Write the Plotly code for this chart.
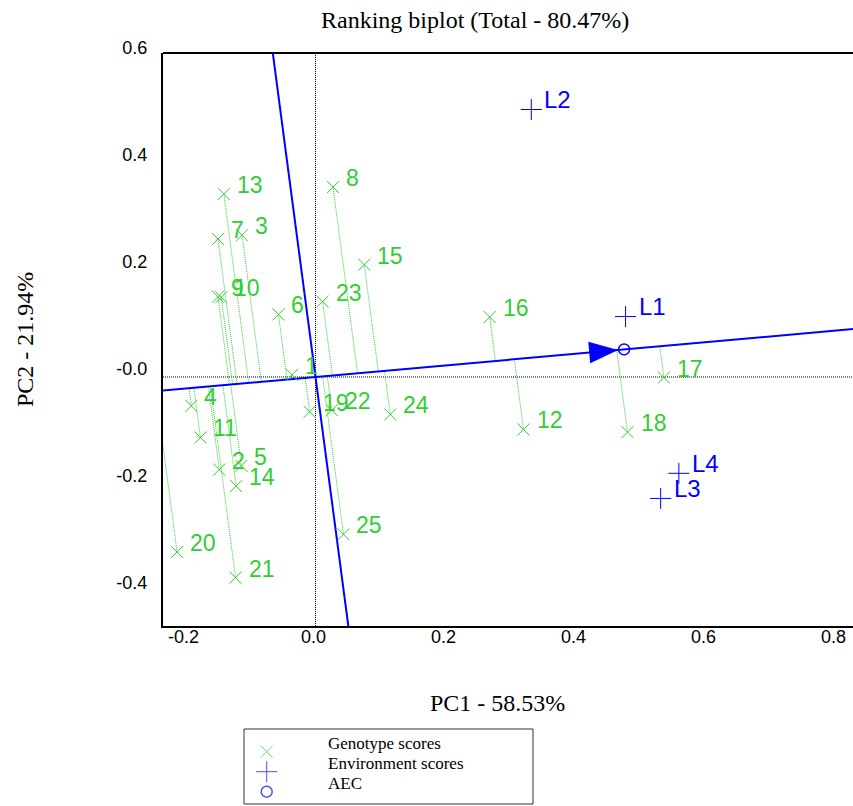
import numpy as np
import plotly.graph_objects as go

# ---------------- data ----------------
genotypes = [str(i) for i in range(1, 26)]
g_pc1 = [-0.036, -0.148, -0.113, -0.191, -0.114, -0.057, -0.150, 0.027, -0.150, -0.145,
         -0.177, 0.320, -0.141, -0.122, 0.075, 0.268, 0.536, 0.480, -0.009, -0.213,
         -0.123, 0.025, 0.011, 0.115, 0.043]
g_pc2 = [0.004, -0.173, 0.265, -0.054, -0.166, 0.117, 0.258, 0.355, 0.150, 0.149,
         -0.113, -0.098, 0.342, -0.204, 0.210, 0.112, -0.001, -0.103, -0.065, -0.327,
         -0.375, -0.062, 0.141, -0.070, -0.294]
environments = ["L1", "L2", "L3", "L4"]
e_pc1 = [0.477, 0.332, 0.531, 0.559]
e_pc2 = [0.113, 0.500, -0.227, -0.180]

x_tickvals = [-0.2, 0.0, 0.2, 0.4, 0.6, 0.8]
x_ticktext = ["-0.2", "0.0", "0.2", "0.4", "0.6", "0.8"]
y_tickvals = [-0.4, -0.2, 0.0, 0.2, 0.4, 0.6]
y_ticktext = ["-0.4", "-0.2", "-0.0", "0.2", "0.4", "0.6"]

title_text = "Ranking biplot (Total - 80.47%)"
x_title = "PC1 - 58.53%"
y_title = "PC2 - 21.94%"
legend_items = ["Genotype scores", "Environment scores", "AEC"]

# ---------------- layout constants ----------------
W, H = 853, 806
PL, PR, PT, PB = 163, 853, 53, 626
x_range = [-0.2346, 0.8269]
y_range = [-0.4654, 0.6056]
GREEN = "#32CD32"
BLUE = "#0000FF"
SERIF = "Liberation Serif"
SANS = "Liberation Sans"

gx = np.array(g_pc1)
gy = np.array(g_pc2)
aec = np.array([np.mean(e_pc1), np.mean(e_pc2)])
a_hat = aec / np.linalg.norm(aec)
perp = np.array([-a_hat[1], a_hat[0]])

fig = go.Figure()

# projection lines of genotypes onto AEC abscissa
px_, py_ = [], []
for x, y in zip(gx, gy):
    t = x * a_hat[0] + y * a_hat[1]
    px_ += [x, t * a_hat[0], None]
    py_ += [y, t * a_hat[1], None]
fig.add_trace(go.Scatter(x=px_, y=py_, mode="lines",
                         line=dict(color=GREEN, width=1, dash="1px,1px"),
                         hoverinfo="skip", showlegend=False))

# AEC abscissa and ordinate
L = 5
fig.add_trace(go.Scatter(x=[-L * a_hat[0], L * a_hat[0]], y=[-L * a_hat[1], L * a_hat[1]],
                         mode="lines", line=dict(color=BLUE, width=2),
                         hoverinfo="skip", showlegend=False))
fig.add_trace(go.Scatter(x=[-L * perp[0], L * perp[0]], y=[-L * perp[1], L * perp[1]],
                         mode="lines", line=dict(color=BLUE, width=2),
                         hoverinfo="skip", showlegend=False))

# points
fig.add_trace(go.Scatter(x=gx, y=gy, mode="markers",
                         marker=dict(symbol="x-thin", size=12, line=dict(color=GREEN, width=1), color=GREEN),
                         showlegend=False, name="Genotype scores"))
fig.add_trace(go.Scatter(x=e_pc1, y=e_pc2, mode="markers",
                         marker=dict(symbol="cross-thin", size=15, line=dict(color=BLUE, width=1), color=BLUE),
                         showlegend=False, name="Environment scores"))
fig.add_trace(go.Scatter(x=[aec[0]], y=[aec[1]], mode="markers",
                         marker=dict(symbol="circle-open", size=11, line=dict(color=BLUE, width=1.5), color=BLUE),
                         showlegend=False, name="AEC"))

# ---------------- manual legend (own axes in pixel units) ----------------
LG_L, LG_R, LG_T, LG_B = 244, 533, 729, 804
leg_rows = [751.7, 771.7, 791.7]
fig.add_trace(go.Scatter(x=[266.7] * 3, y=leg_rows, mode="markers", xaxis="x2", yaxis="y2",
                         marker=dict(symbol=["x-thin", "cross-thin", "circle-open"], size=[12, 15, 11],
                                     color=[GREEN, BLUE, BLUE],
                                     line=dict(color=[GREEN, BLUE, BLUE], width=[1, 1, 1.5])),
                         hoverinfo="skip", showlegend=False))

annotations = []
for lab, x, y in zip(genotypes, gx, gy):
    annotations.append(dict(x=x, y=y, xref="x", yref="y", text=lab, showarrow=False,
                            xanchor="left", yanchor="middle", xshift=11, yshift=9,
                            font=dict(family=SANS, size=23, color=GREEN)))
for lab, x, y in zip(environments, e_pc1, e_pc2):
    annotations.append(dict(x=x, y=y, xref="x", yref="y", text=lab, showarrow=False,
                            xanchor="left", yanchor="middle", xshift=11, yshift=10,
                            font=dict(family=SANS, size=24, color=BLUE)))

annotations.append(dict(x=474.5 / W, y=1 - 20 / H, xref="paper", yref="paper", text=title_text,
                        showarrow=False, xanchor="center", yanchor="middle",
                        font=dict(family=SERIF, size=24, color="black")))
annotations.append(dict(x=497 / W, y=1 - 703 / H, xref="paper", yref="paper", text=x_title,
                        showarrow=False, xanchor="center", yanchor="middle",
                        font=dict(family=SERIF, size=24, color="black")))
annotations.append(dict(x=25 / W, y=1 - 340 / H, xref="paper", yref="paper", text=y_title,
                        showarrow=False, xanchor="center", yanchor="middle", textangle=-90,
                        font=dict(family=SERIF, size=24, color="black")))
for txt, yy in zip(legend_items, [743.3, 763.3, 783.3]):
    annotations.append(dict(x=326 / W, y=1 - yy / H, xref="paper", yref="paper", text=txt,
                            showarrow=False, xanchor="left", yanchor="middle",
                            font=dict(family=SERIF, size=17, color="black")))

# arrow head (pixel-sized path anchored at AEC point)
ppx = (PR - PL) / (x_range[1] - x_range[0])
ppy = (PB - PT) / (y_range[1] - y_range[0])
u = np.array([aec[0] * ppx, aec[1] * ppy])
u = u / np.linalg.norm(u)
v = np.array([-u[1], u[0]])
tip = -6 * u
base = -35 * u
c1 = base + 10.8 * v
c2 = base - 10.8 * v
tri_path = f"M{tip[0]:.2f},{tip[1]:.2f} L{c1[0]:.2f},{c1[1]:.2f} L{c2[0]:.2f},{c2[1]:.2f} Z"

shapes = [
    # zero lines
    dict(type="line", xref="x", yref="y", x0=0, x1=0, y0=y_range[0], y1=y_range[1],
         line=dict(color="black", width=1, dash="1px,1px"), layer="below"),
    dict(type="line", xref="x", yref="y", x0=x_range[0], x1=x_range[1], y0=0, y1=0,
         line=dict(color="black", width=1, dash="1px,1px"), layer="below"),
    # top frame line
    dict(type="line", xref="paper", yref="paper", x0=PL / W, x1=1, y0=1 - PT / H, y1=1 - PT / H,
         line=dict(color="black", width=2)),
    # arrow head
    dict(type="path", xref="x", yref="y", xsizemode="pixel", ysizemode="pixel",
         xanchor=float(aec[0]), yanchor=float(aec[1]), path=tri_path,
         fillcolor=BLUE, line=dict(color=BLUE, width=0)),
    # legend box
    dict(type="rect", xref="paper", yref="paper", x0=LG_L / W, x1=LG_R / W,
         y0=1 - LG_B / H, y1=1 - LG_T / H, line=dict(color="#333333", width=1)),
]

fig.update_layout(
    width=W, height=H, margin=dict(l=0, r=0, t=0, b=0, autoexpand=False),
    paper_bgcolor="white", plot_bgcolor="white",
    showlegend=False,
    xaxis=dict(domain=[PL / W, PR / W], range=x_range, showgrid=False, zeroline=False,
               showline=True, linecolor="black", linewidth=2, ticks="", automargin=False,
               tickvals=x_tickvals, ticktext=x_ticktext, ticklabelshift=-2,
               ticklabelstandoff=-7,
               tickfont=dict(family=SANS, size=18, color="black")),
    yaxis=dict(domain=[1 - PB / H, 1 - PT / H], range=y_range, showgrid=False, zeroline=False,
               showline=True, linecolor="black", linewidth=2, ticks="", automargin=False,
               tickvals=y_tickvals, ticktext=y_ticktext, ticklabelshift=-8,
               ticklabelstandoff=10,
               tickfont=dict(family=SANS, size=18, color="black")),
    xaxis2=dict(domain=[LG_L / W, LG_R / W], range=[LG_L, LG_R], visible=False, anchor="y2",
                automargin=False),
    yaxis2=dict(domain=[1 - LG_B / H, 1 - LG_T / H], range=[LG_B, LG_T], visible=False, anchor="x2",
                automargin=False),
    annotations=annotations,
    shapes=shapes,
)

fig.write_html("out.html")
